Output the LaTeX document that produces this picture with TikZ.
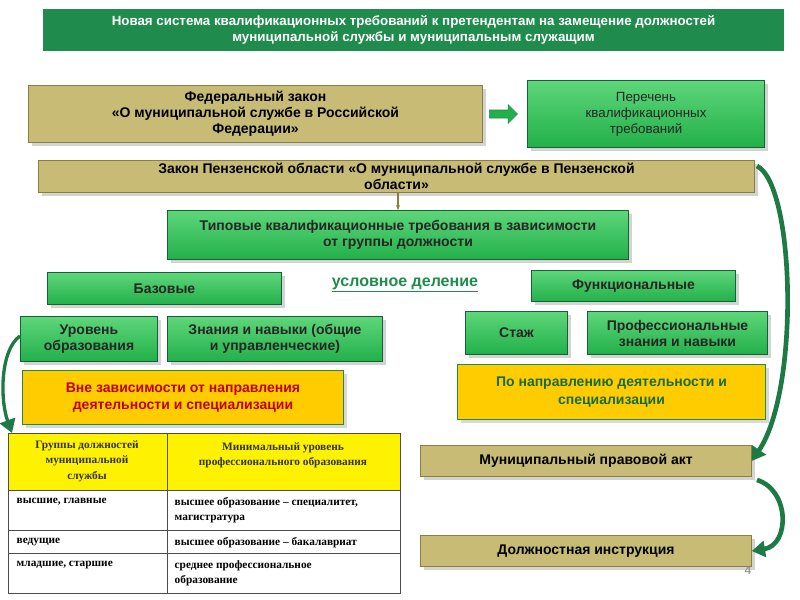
\documentclass[tikz,border=0pt]{standalone}
\usepackage{fontspec}
\setmainfont{Liberation Sans}
\newfontfamily\serifx{Liberation Serif}
\usetikzlibrary{shadows,arrows.meta}
\definecolor{gdark}{HTML}{1F8C4E}
\definecolor{gbox}{HTML}{22B04A}
\definecolor{gboxl}{HTML}{5ED67A}
\definecolor{olive}{HTML}{C7BB76}
\definecolor{olived}{HTML}{8A7F3C}
\definecolor{ybox}{HTML}{FFCC00}
\definecolor{arrowg}{HTML}{1E7A45}
\definecolor{redt}{HTML}{C00000}
\definecolor{greent}{HTML}{1A6B3A}
\tikzset{
  px/.style={x=0.75pt,y=-0.75pt},
  gbx/.style={draw=gdark!70!black,top color=gboxl,bottom color=gbox,drop shadow={opacity=0.35},inner sep=2pt,align=center,font=\fontsize{10.5}{12}\selectfont\bfseries,text=black!85},
  scrl/.style={draw=olived,fill=olive,drop shadow={opacity=0.35},align=center,inner sep=1pt,font=\fontsize{10.5}{12}\selectfont\bfseries},
  ybx/.style={draw=gdark,fill=ybox,drop shadow={opacity=0.3},align=center,font=\fontsize{10.5}{13}\selectfont\bfseries},
  tcell/.style={font=\serifx\fontsize{8.5}{11}\selectfont\bfseries,align=left,anchor=north west},
  carrow/.style={draw=arrowg,line width=3.5pt,-{Triangle[length=10pt,width=12pt]}},
}
\newcommand{\bx}[7]{\node[#1,minimum width=#4*0.75pt-0.8pt,minimum height=#5*0.75pt-0.8pt] (#6) at ({(#2+#4/2)*0.75pt},{-(#3+#5/2)*0.75pt}) {#7};}
\begin{document}
\begin{tikzpicture}
\useasboundingbox (0,0) rectangle (600pt,-450pt);
\bx{fill=gdark,draw=none,font=\fontsize{10}{12}\selectfont\bfseries,text=white,align=center}{42}{8}{743}{44}{title}{Новая система квалификационных требований к претендентам на замещение должностей\\муниципальной службы и муниципальным служащим}
\bx{scrl}{28}{85}{455}{58}{fed}{Федеральный закон\\«О муниципальной службе в Российской\\Федерации»}
\bx{gbx,font=\fontsize{10}{12}\selectfont}{527}{80}{238}{68}{per}{Перечень\\квалификационных\\требований}
\draw[draw=gdark,fill=gbox] (fed.east) ++(5pt,3pt) -- ++(14pt,0) -- ++(0,4pt) -- ++(7pt,-7pt) -- ++(-7pt,-7pt) -- ++(0,4pt) -- ++(-14pt,0) -- cycle;
\bx{scrl}{38}{160}{717}{33}{pen}{Закон Пензенской области «О муниципальной службе в Пензенской\\области»}
\bx{gbx}{167}{210}{462}{50}{tip}{Типовые квалификационные требования в зависимости\\от группы должности}
\draw[olived,line width=1pt,-{Stealth[length=4pt]}] (pen.south -| tip.north) -- (tip.north);
\bx{gbx}{47}{272}{235}{33}{baz}{Базовые}
\node[font=\fontsize{12}{14}\selectfont\bfseries,text=gdark] (usl) at (405*0.75pt,-285*0.75pt) {\underline{условное деление}};
\bx{gbx}{531}{270}{205}{32}{fun}{Функциональные}
\bx{gbx}{20}{316}{138}{46}{ur}{Уровень\\образования}
\bx{gbx}{167}{316}{216}{46}{zn}{Знания и навыки (общие\\и управленческие)}
\bx{gbx}{465}{311}{103}{44}{st}{Стаж}
\bx{gbx}{587}{311}{181}{44}{pr}{Профессиональные\\знания и навыки}
\bx{ybx,text=redt}{22}{370}{322}{55}{yl}{Вне зависимости от направления\\деятельности и специализации}
\bx{ybx,text=greent}{457}{364}{309}{56}{yr}{По направлению деятельности и\\специализации}
\bx{scrl}{420}{445}{332}{32}{mpa}{Муниципальный правовой акт}
\bx{scrl}{420}{535}{332}{32}{di}{Должностная инструкция}
% table
\begin{scope}[px]
\fill[yellow] (8,433) rectangle (400,490);
\draw[black!70,line width=0.6pt] (8,433) rectangle (400,593) (167,433) -- (167,593)
 (8,490) -- (400,490) (8,530) -- (400,530) (8,553) -- (400,553);
\node[font=\serifx\fontsize{8.5}{11.5}\selectfont\bfseries,align=center,text=black!80] (h1) at (87,461) {Группы должностей\\муниципальной\\службы};
\node[font=\serifx\fontsize{8.5}{11.5}\selectfont\bfseries,align=center,text=black!80] (h2) at (283,455) {Минимальный уровень\\профессионального образования};
\node[tcell] (r1a) at (12,493) {высшие, главные};
\node[tcell] (r1b) at (170,493) {высшее образование – специалитет,\\магистратура};
\node[tcell] (r2a) at (12,533) {ведущие};
\node[tcell] (r2b) at (170,533) {высшее образование – бакалавриат};
\node[tcell] (r3a) at (12,556) {младшие, старшие};
\node[tcell] (r3b) at (170,556) {среднее профессиональное\\образование};
\node[text=gray,font=\fontsize{9}{10}\selectfont] (pg) at (748,570) {4};
\coordinate (c1) at (757,166);
\coordinate (c2) at (757,480);
\coordinate (c3) at (20,336);
\coordinate (c3e) at (12,433);
\coordinate (k1) at (795,185);
\coordinate (k2) at (800,390);
\coordinate (k3) at (790,490);
\coordinate (k4) at (790,545);
\coordinate (k5) at (0,350);
\coordinate (k6) at (0,400);
\end{scope}
\draw[carrow] (c1) .. controls (k1) and (k2) .. (mpa.east);
\draw[carrow] (c2) .. controls (k3) and (k4) .. (di.east);
\draw[carrow,line width=2.5pt] (c3) .. controls (k5) and (k6) .. (c3e);
\end{tikzpicture}
\end{document}
